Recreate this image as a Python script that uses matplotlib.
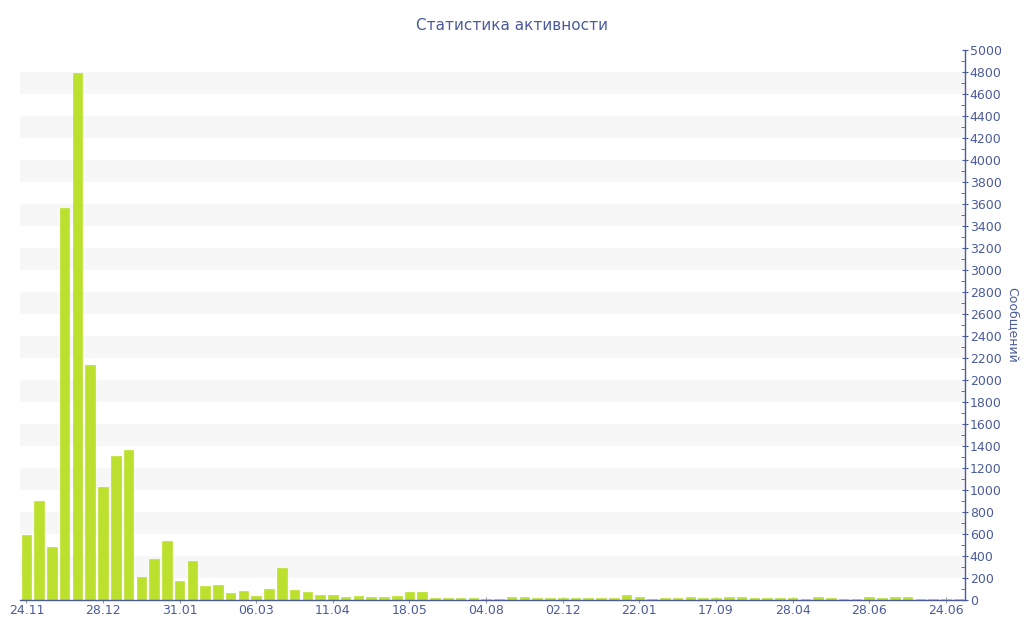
import matplotlib
matplotlib.use("Agg")
import matplotlib.pyplot as plt
from matplotlib.ticker import MultipleLocator

values = [590, 900, 482, 3560, 4790, 2140, 1025, 1310, 1365, 206,
          372, 533, 170, 358, 127, 133, 64, 85, 36, 103,
          288, 94, 77, 45, 43, 27, 36, 24, 27, 33,
          73, 70, 18, 15, 18, 18, 12, 8, 27, 25,
          18, 18, 20, 18, 18, 20, 20, 42, 27, 10,
          18, 20, 27, 18, 18, 25, 25, 18, 20, 15,
          15, 12, 27, 15, 12, 12, 25, 18, 27, 27,
          12, 12, 12, 12]
tick_labels = ["24.11", "28.12", "31.01", "06.03", "11.04", "18.05", "04.08",
               "02.12", "22.01", "17.09", "28.04", "28.06", "24.06"]
title = "Статистика активности"
ylabel = "Сообщений"

axis_color = "#4b5b9b"
bar_color = "#bce02e"

fig = plt.figure(figsize=(10.24, 6.4), dpi=100)
ax = fig.add_axes([20 / 1024, 1 - 600 / 640, 945 / 1024, 550 / 640])

# background bands
for lo in range(200, 4800, 400):
    ax.axhspan(lo, lo + 200, color="#f7f7f7", zorder=0, lw=0)

x = list(range(len(values)))
ax.bar(x, values, width=0.75, color=bar_color, edgecolor=bar_color,
       linewidth=0.5, zorder=2)

ax.set_xlim(-0.5, len(values) - 0.5)
ax.set_ylim(0, 5000)

ax.set_xticks(x[::6][:len(tick_labels)])
ax.set_xticklabels(tick_labels)

ax.yaxis.tick_right()
ax.yaxis.set_label_position("right")
ax.yaxis.set_major_locator(MultipleLocator(200))
ax.yaxis.set_minor_locator(MultipleLocator(100))

for s in ["top", "left"]:
    ax.spines[s].set_visible(False)
for s in ["bottom", "right"]:
    ax.spines[s].set_color(axis_color)
    ax.spines[s].set_linewidth(1.0)
    ax.spines[s].set_zorder(3)

ax.tick_params(axis="x", colors="#999999", labelcolor=axis_color,
               labelsize=9, length=4, direction="inout", pad=1)
ax.tick_params(axis="y", which="major", colors=axis_color,
               labelsize=9, length=5, direction="inout", pad=1)
ax.tick_params(axis="y", which="minor", colors=axis_color,
               length=3, direction="in")

ax.set_ylabel(ylabel, color=axis_color, fontsize=9, rotation=270,
              labelpad=12)
fig.text(0.5, 1 - 25 / 640, title, ha="center", va="center",
         color=axis_color, fontsize=11)

fig.savefig("out.png", dpi=100)
